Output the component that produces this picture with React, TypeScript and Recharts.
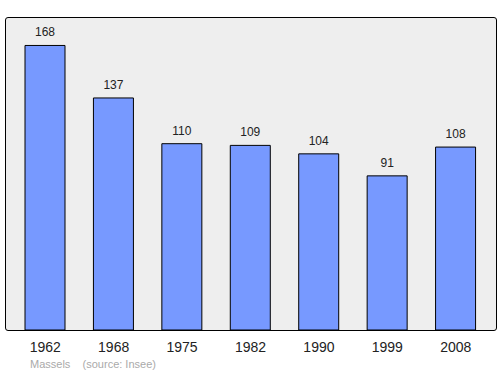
import { BarChart, Bar, XAxis, YAxis, LabelList } from 'recharts';

const years = ['1962', '1968', '1975', '1982', '1990', '1999', '2008'];
const population = [168, 137, 110, 109, 104, 91, 108];

const data = years.map((year, i) => ({ year, population: population[i] }));

export default function App() {
  return (
    <div style={{ position: 'absolute', left: 0, top: 0, width: 500, height: 374, background: '#fff', fontFamily: 'Arial, "Liberation Sans", sans-serif' }}>
      <div
        style={{
          position: 'absolute',
          left: 5,
          top: 17,
          width: 492,
          height: 314,
          boxSizing: 'border-box',
          border: '1.5px solid #000',
          borderRadius: 3,
          background: '#eeeeee',
        }}
      />
      <div style={{ position: 'absolute', left: 0, top: 0 }}>
        <BarChart width={500} height={374} data={data} margin={{ top: 17, right: 10, bottom: 14, left: 11 }}>
          <YAxis hide domain={[0, 184.8]} />
          <XAxis
            dataKey="year"
            height={30}
            axisLine={false}
            tickLine={false}
            tick={{ fontSize: 14, fill: '#222' }}
            dy={4}
          />
          <Bar dataKey="population" fill="#7799ff" stroke="#000" strokeWidth={1} barSize={40} isAnimationActive={false}>
            <LabelList dataKey="population" position="top" offset={9} style={{ fontSize: 12, fill: '#222' }} />
          </Bar>
        </BarChart>
      </div>
      <div style={{ position: 'absolute', left: 30, top: 358, fontSize: 11, color: '#aaaaaa', whiteSpace: 'pre' }}>
        {'Massels    (source: Insee)'}
      </div>
    </div>
  );
}
